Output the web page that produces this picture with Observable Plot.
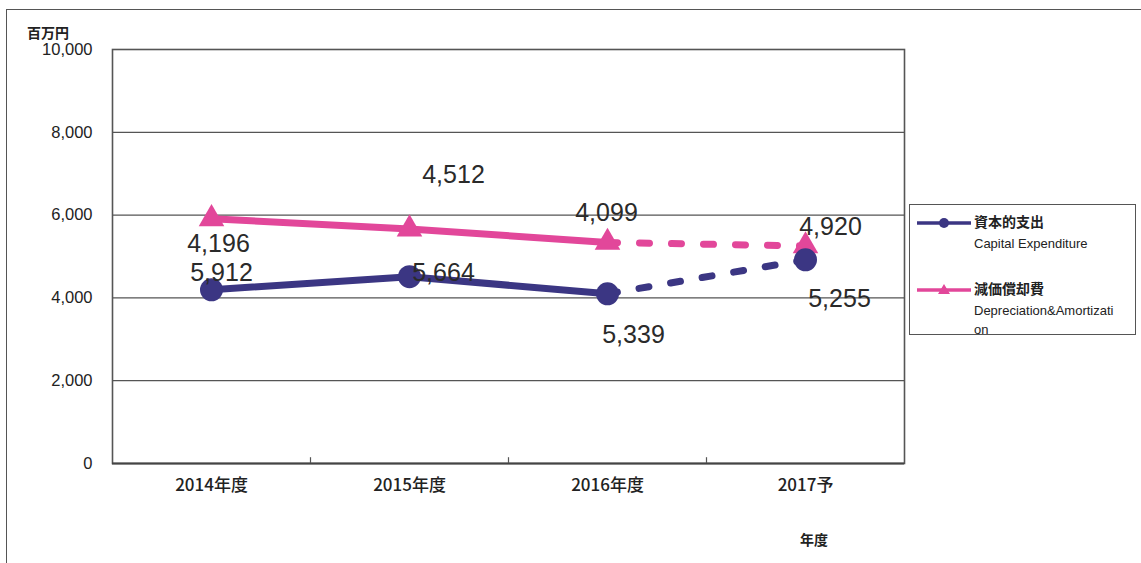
<!DOCTYPE html>
<html>
<head>
<meta charset="utf-8">
<script src="https://cdn.jsdelivr.net/npm/d3@7"></script>
<script src="https://cdn.jsdelivr.net/npm/@observablehq/plot@0.6"></script>
<style>
  html, body { margin: 0; padding: 0; background: #fff; }
  #wrap { position: relative; width: 1141px; height: 563px; overflow: hidden; font-family: "Liberation Sans", Arial, "Noto Sans CJK JP", sans-serif; color: #222; }
  #border { position: absolute; left: 6px; top: 9px; width: 1200px; height: 600px; border-top: 1.5px solid #555; border-left: 1.5px solid #555; }
  #unit { position: absolute; left: 27px; top: 22px; font-size: 14px; font-weight: bold; font-family: "Noto Sans CJK JP", sans-serif; letter-spacing: 0px; }
  #xtitle { position: absolute; left: 800px; top: 529px; font-size: 14px; font-weight: bold; font-family: "Noto Sans CJK JP", sans-serif; }
  #legend { position: absolute; left: 909px; top: 204px; width: 227px; height: 131px; border: 1.5px solid #555; background: #fff; box-sizing: border-box; }
  .li { position: absolute; left: 7px; }
  .lj { position: absolute; left: 64px; font-size: 14px; font-weight: bold; font-family: "Noto Sans CJK JP", sans-serif; white-space: nowrap; }
  .le { position: absolute; left: 64px; font-size: 13px; line-height: 19px; white-space: nowrap; }
  #chart svg { position: absolute; left: 0; top: 0; }
</style>
</head>
<body>
<div id="wrap">
  <div id="chart"></div>
  <div id="border"></div>
  <div id="unit"></div>
  <div id="xtitle"></div>
  <div id="legend"></div>
</div>
<script>
// ---- data ----
const years = ["2014年度", "2015年度", "2016年度", "2017予"];
const capex = [4196, 4512, 4099, 4920];          // 資本的支出 Capital Expenditure
const depreciation = [5912, 5664, 5339, 5255];   // 減価償却費 Depreciation&Amortization
const yTicks = [0, 2000, 4000, 6000, 8000, 10000];
const unitLabel = "百万円";
const xTitle = "年度";
const seriesNames = ["資本的支出", "減価償却費"];
const seriesNamesEn = ["Capital Expenditure", "Depreciation&Amortizati<br>on"];

// ---- styles / label placement (not data) ----
const navy = "#3b3683";
const pink = "#e2479a";
const capexLabelOffsets = [[7, -46], [44, -102], [-1, -81], [25, -33]];
const depLabelOffsets = [[10, 54], [34, 44], [26, 93], [34, 53]];

const capexRows = years.map((y, i) => ({year: y, value: capex[i], i}));
const depRows = years.map((y, i) => ({year: y, value: depreciation[i], i}));
const actual = r => r.i <= 2;
const forecast = r => r.i >= 2;
const fmt = d3.format(",");

const labelMarks = (rows, offs) => rows.map((r, k) =>
  Plot.text([r], {x: "year", y: "value", text: d => fmt(d.value), dx: offs[k][0], dy: offs[k][1],
    fontSize: 25, fill: "#2a2a2a", fontFamily: "Liberation Sans, Arial, sans-serif"}));

const chart = Plot.plot({
  width: 1141,
  height: 563,
  marginLeft: 112,
  marginRight: 237,
  marginTop: 49,
  marginBottom: 100,
  style: {fontFamily: "Liberation Sans, Arial, sans-serif", color: "#222", background: "transparent"},
  x: {type: "band", domain: years, padding: 0, label: null},
  y: {domain: [0, 10000], label: null},
  marks: [
    Plot.ruleY(yTicks.slice(1, -1), {stroke: "#555", strokeWidth: 1.3}),
    Plot.frame({stroke: "#555", strokeWidth: 1.6}),
    Plot.ruleY([0], {stroke: "#444", strokeWidth: 2}),
    Plot.ruleX(years.slice(1), {x: d => d, y1: 0, y2: 140, dx: -99, stroke: "#555", strokeWidth: 1.2}),
    Plot.axisY({ticks: yTicks, tickFormat: fmt, tickSize: 0, tickPadding: 20, fontSize: 16.5, fill: "#222", label: null}),
    Plot.axisX({tickSize: 0, tickPadding: 15, fontSize: 17, fill: "#222", fontFamily: "Noto Sans CJK JP, sans-serif", fontWeight: 500, label: null}),
    // Depreciation (pink) first
    Plot.line(depRows.filter(actual), {x: "year", y: "value", stroke: pink, strokeWidth: 7}),
    Plot.line(depRows.filter(forecast), {x: "year", y: "value", stroke: pink, strokeWidth: 7, strokeDasharray: "10,22", strokeLinecap: "round"}),
    Plot.dot(depRows, {x: "year", y: "value", symbol: "triangle", r: 9.5, fill: pink, stroke: "none"}),
    // Capex (navy) on top
    Plot.line(capexRows.filter(actual), {x: "year", y: "value", stroke: navy, strokeWidth: 7}),
    Plot.line(capexRows.filter(forecast), {x: "year", y: "value", stroke: navy, strokeWidth: 7, strokeDasharray: "10,22", strokeLinecap: "round"}),
    Plot.dot(capexRows, {x: "year", y: "value", r: 11.5, fill: navy, stroke: "none"}),
    ...labelMarks(capexRows, capexLabelOffsets),
    ...labelMarks(depRows, depLabelOffsets)
  ]
});
document.getElementById("chart").appendChild(chart);

document.getElementById("unit").textContent = unitLabel;
document.getElementById("xtitle").textContent = xTitle;

const legend = document.getElementById("legend");
const swatch = (color, sym) => {
  const shape = sym === "circle"
    ? `<circle cx="27" cy="8" r="5" fill="${color}"/>`
    : `<path d="M27,2 L33,12 L21,12 Z" fill="${color}"/>`;
  return `<svg width="56" height="16"><line x1="0" y1="8" x2="54" y2="8" stroke="${color}" stroke-width="3.5"/>${shape}</svg>`;
};
legend.innerHTML = `
  <div class="li" style="top:10px">${swatch(navy, "circle")}</div>
  <div class="lj" style="top:6px">${seriesNames[0]}</div>
  <div class="le" style="top:29px">${seriesNamesEn[0]}</div>
  <div class="li" style="top:77px">${swatch(pink, "triangle")}</div>
  <div class="lj" style="top:73px">${seriesNames[1]}</div>
  <div class="le" style="top:96px">${seriesNamesEn[1]}</div>
`;
</script>
</body>
</html>
